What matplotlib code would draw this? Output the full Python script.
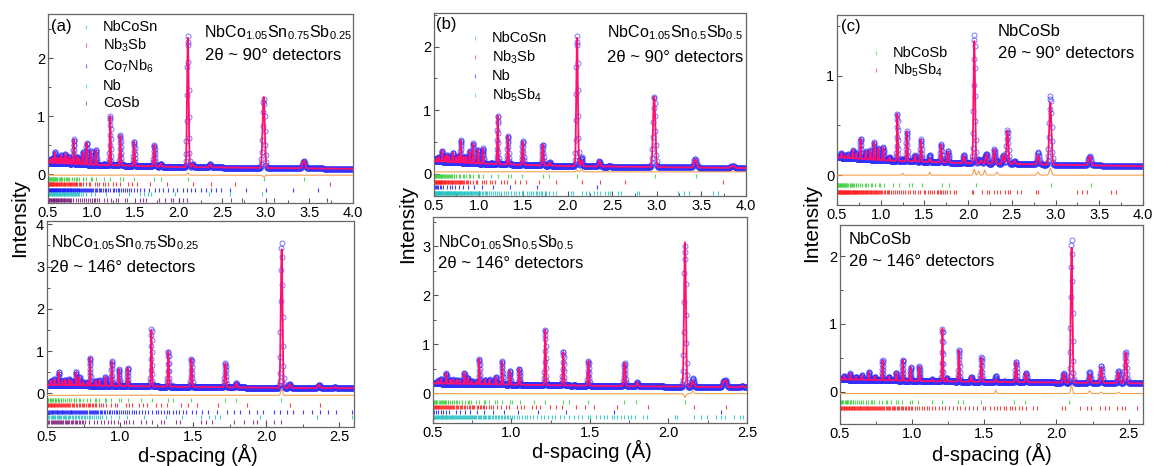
import numpy as np
import matplotlib
matplotlib.use('Agg')
import matplotlib.pyplot as plt
from matplotlib.ticker import MultipleLocator

plt.rcParams['font.family'] = ['Liberation Sans', 'DejaVu Sans']
plt.rcParams['mathtext.default'] = 'regular'

# ---------------- peak lists (d, top of calculated profile) ----------------
# NbCo1.05Sn0.75Sb0.25, 90 deg bank
A90_PEAK_D = [0.53, 0.555, 0.58, 0.605, 0.625, 0.65, 0.668, 0.70, 0.722, 0.745, 0.775, 0.795,
              0.833, 0.859, 0.90, 0.943, 0.993, 1.052, 1.145, 1.214, 1.33, 1.365, 1.488, 1.72,
              1.795, 2.105, 2.16, 2.36, 2.47, 2.975, 3.435]
A90_PEAK_TOP = [0.26, 0.28, 0.38, 0.27, 0.28, 0.33, 0.27, 0.35, 0.27, 0.30, 0.26, 0.60,
                0.30, 0.27, 0.38, 0.54, 0.40, 0.42, 0.17, 1.00, 0.67, 0.16, 0.56, 0.50,
                0.18, 2.35, 0.17, 0.17, 0.12, 1.33, 0.23]
A90_BG_D = [0.5, 1.0, 2.0, 4.0]
A90_BG = [0.20, 0.16, 0.12, 0.09]
A90_MISFIT_D = [2.105, 2.975]
A90_MISFIT = [0.04, -0.03]

# NbCo1.05Sn0.75Sb0.25, 146 deg bank
A146_PEAK_D = [0.525, 0.55, 0.58, 0.605, 0.625, 0.65, 0.668, 0.70, 0.722, 0.745, 0.775, 0.795,
               0.833, 0.859, 0.90, 0.943, 0.993, 1.052, 1.145, 1.214, 1.33, 1.365, 1.41, 1.488,
               1.72, 1.795, 2.105, 2.16, 2.36, 2.47]
A146_PEAK_TOP = [0.30, 0.33, 0.50, 0.30, 0.32, 0.33, 0.30, 0.50, 0.38, 0.27, 0.26, 0.84,
                 0.30, 0.31, 0.385, 0.76, 0.57, 0.60, 0.18, 1.50, 1.00, 0.16, 0.15, 0.82,
                 0.71, 0.24, 3.42, 0.22, 0.20, 0.15]
A146_BG_D = [0.5, 1.0, 2.0, 2.6]
A146_BG = [0.20, 0.17, 0.13, 0.12]
A146_MISFIT_D = [2.105, 1.214]
A146_MISFIT = [0.16, 0.02]

# NbCo1.05Sn0.5Sb0.5, 90 deg bank
B90_PEAK_D = [0.53, 0.555, 0.593, 0.625, 0.65, 0.67, 0.71, 0.745, 0.775, 0.80, 0.833, 0.86,
              0.90, 0.94, 0.997, 1.05, 1.145, 1.215, 1.33, 1.365, 1.495, 1.72, 1.80, 2.105,
              2.155, 2.355, 2.47, 2.97, 3.43, 3.85]
B90_PEAK_TOP = [0.25, 0.26, 0.365, 0.27, 0.30, 0.26, 0.33, 0.27, 0.28, 0.53, 0.27, 0.27,
                0.36, 0.48, 0.38, 0.40, 0.17, 0.92, 0.60, 0.15, 0.51, 0.46, 0.18, 2.14,
                0.22, 0.20, 0.12, 1.22, 0.23, 0.13]
B90_BG_D = [0.5, 1.0, 2.0, 4.0]
B90_BG = [0.20, 0.16, 0.12, 0.09]
B90_MISFIT_D = [2.105, 2.155]
B90_MISFIT = [0.03, 0.04]

# NbCo1.05Sn0.5Sb0.5, 146 deg bank
B146_PEAK_D = [0.53, 0.55, 0.585, 0.61, 0.625, 0.65, 0.67, 0.70, 0.72, 0.745, 0.775, 0.795,
               0.83, 0.86, 0.90, 0.94, 0.99, 1.05, 1.145, 1.215, 1.33, 1.40, 1.49, 1.72,
               1.80, 2.105, 2.155, 2.35, 2.365, 2.47]
B146_PEAK_TOP = [0.26, 0.29, 0.41, 0.27, 0.28, 0.27, 0.26, 0.42, 0.32, 0.25, 0.24, 0.70,
                 0.27, 0.28, 0.33, 0.65, 0.46, 0.50, 0.17, 1.30, 0.85, 0.17, 0.66, 0.62,
                 0.22, 3.09, 0.25, 0.24, 0.26, 0.15]
B146_BG_D = [0.5, 1.5, 2.5]
B146_BG = [0.20, 0.15, 0.12]
B146_MISFIT_D = [2.105, 2.155]
B146_MISFIT = [-0.08, 0.05]

# NbCoSb, 90 deg bank
C90_PEAK_D = [0.55, 0.59, 0.63, 0.68, 0.72, 0.77, 0.83, 0.88, 0.925, 0.975, 1.03, 1.10,
              1.19, 1.30, 1.39, 1.46, 1.56, 1.69, 1.77, 1.95, 2.07, 2.15, 2.21, 2.30,
              2.40, 2.45, 2.53, 2.80, 2.94, 3.39]
C90_PEAK_TOP = [0.22, 0.20, 0.21, 0.25, 0.22, 0.37, 0.24, 0.25, 0.33, 0.27, 0.28, 0.18,
                0.62, 0.44, 0.20, 0.36, 0.17, 0.31, 0.24, 0.20, 1.35, 0.15, 0.21, 0.26,
                0.20, 0.45, 0.14, 0.20, 0.73, 0.19]
C90_BG_D = [0.5, 1.0, 2.0, 4.0]
C90_BG = [0.18, 0.15, 0.12, 0.09]
C90_MISFIT_D = [1.25, 1.56, 2.07, 2.12, 2.19, 2.33, 2.80, 2.94]
C90_MISFIT = [0.02, 0.03, 0.06, 0.04, 0.05, 0.03, 0.03, 0.07]

# NbCoSb, 146 deg bank
C146_PEAK_D = [0.53, 0.57, 0.61, 0.65, 0.70, 0.74, 0.795, 0.84, 0.89, 0.935, 0.99, 1.05,
               1.14, 1.21, 1.24, 1.325, 1.41, 1.48, 1.58, 1.64, 1.72, 1.79, 2.05, 2.105,
               2.23, 2.31, 2.43, 2.48]
C146_PEAK_TOP = [0.23, 0.27, 0.22, 0.24, 0.29, 0.22, 0.46, 0.22, 0.28, 0.47, 0.36, 0.37,
                 0.18, 0.93, 0.20, 0.61, 0.22, 0.51, 0.18, 0.15, 0.44, 0.28, 0.27, 2.13,
                 0.25, 0.36, 0.29, 0.58]
C146_BG_D = [0.5, 1.2, 2.6]
C146_BG = [0.18, 0.15, 0.12]
C146_MISFIT_D = [1.58, 2.105, 2.23, 2.31, 2.43]
C146_MISFIT = [0.05, 0.12, 0.04, 0.02, 0.02]

# ---------------- reflection markers (d-spacing) ----------------
NBCOSN_TICKS = [0.503, 0.505, 0.510, 0.518, 0.520, 0.526, 0.537, 0.543, 0.553, 0.555, 0.562,
                0.573, 0.575, 0.583, 0.595, 0.598, 0.607, 0.624, 0.634, 0.649, 0.653, 0.665,
                0.683, 0.687, 0.701, 0.722, 0.727, 0.744, 0.775, 0.795, 0.825, 0.833, 0.859,
                0.897, 0.907, 0.941, 0.992, 1.006, 1.052, 1.145, 1.215, 1.330, 1.365, 1.488,
                1.718, 1.794, 2.104, 2.975, 3.435]
NBCOSB_TICKS = [0.500, 0.506, 0.514, 0.516, 0.522, 0.532, 0.539, 0.548, 0.550, 0.558, 0.568,
                0.570, 0.579, 0.590, 0.593, 0.602, 0.618, 0.629, 0.644, 0.648, 0.660, 0.677,
                0.681, 0.695, 0.716, 0.721, 0.738, 0.768, 0.788, 0.818, 0.826, 0.852, 0.889,
                0.900, 0.933, 0.983, 0.997, 1.043, 1.135, 1.204, 1.319, 1.354, 1.475, 1.703,
                1.779, 2.086, 2.950, 3.406]
NB3SB_TICKS = [0.500, 0.505, 0.510, 0.515, 0.519, 0.524, 0.529, 0.535, 0.540, 0.545, 0.551,
               0.557, 0.562, 0.568, 0.574, 0.580, 0.587, 0.593, 0.600, 0.607, 0.614, 0.621,
               0.628, 0.636, 0.644, 0.652, 0.660, 0.669, 0.678, 0.687, 0.697, 0.706, 0.716,
               0.727, 0.737, 0.748, 0.756, 0.764, 0.780, 0.789, 0.797, 0.807, 0.816, 0.826,
               0.836, 0.858, 0.870, 0.882, 0.907, 0.935, 0.966, 0.982, 1.037, 1.058, 1.080,
               1.128, 1.154, 1.183, 1.247, 1.283, 1.323, 1.414, 1.467, 1.527, 1.673, 1.870,
               2.160, 2.366, 2.645, 3.740]
CO7NB6_TICKS = [0.503, 0.509, 0.514, 0.520, 0.526, 0.531, 0.537, 0.543, 0.548, 0.554, 0.560,
                0.566, 0.571, 0.577, 0.583, 0.589, 0.594, 0.600, 0.606, 0.612, 0.618, 0.624,
                0.630, 0.636, 0.642, 0.648, 0.655, 0.661, 0.667, 0.674, 0.680, 0.687, 0.693,
                0.700, 0.707, 0.713, 0.720, 0.727, 0.734, 0.741, 0.748, 0.755, 0.762, 0.769,
                0.776, 0.784, 0.791, 0.798, 0.806, 0.813, 0.821, 0.829, 0.836, 0.844, 0.852,
                0.860, 0.868, 0.879, 0.891, 0.900, 0.912, 0.925, 0.933, 0.947, 0.958, 0.970,
                0.982, 0.995, 1.008, 1.020, 1.035, 1.048, 1.062, 1.080, 1.095, 1.110, 1.130,
                1.150, 1.170, 1.190, 1.215, 1.245, 1.260, 1.279, 1.300, 1.320, 1.336, 1.360,
                1.380, 1.405, 1.430, 1.451, 1.490, 1.520, 1.560, 1.600, 1.662, 1.730, 1.777,
                1.822, 1.879, 1.936, 1.977, 2.050, 2.095, 2.140, 2.186, 2.254, 2.311, 2.368,
                2.425, 2.480, 2.583, 2.775, 3.005, 3.311, 3.599]
NB_TICKS_A = [0.502, 0.510, 0.517, 0.525, 0.533, 0.541, 0.549, 0.557, 0.565, 0.573, 0.581,
              0.590, 0.598, 0.607, 0.615, 0.624, 0.633, 0.642, 0.651, 0.660, 0.670, 0.679,
              0.689, 0.699, 0.709, 0.719, 0.730, 0.740, 0.751, 0.762, 0.773, 0.785, 0.797,
              0.809, 0.821, 0.834, 0.847, 0.860, 0.875, 0.905, 0.935, 0.993, 1.045, 1.164,
              1.311, 1.425, 1.550, 1.607, 1.650, 1.686, 1.959, 2.345, 2.584, 2.960]
COSB_TICKS = [0.503, 0.510, 0.517, 0.524, 0.531, 0.538, 0.545, 0.552, 0.559, 0.566, 0.574,
              0.581, 0.589, 0.596, 0.604, 0.612, 0.620, 0.628, 0.636, 0.645, 0.653, 0.662,
              0.671, 0.680, 0.689, 0.698, 0.708, 0.718, 0.728, 0.738, 0.749, 0.760, 0.788,
              0.820, 0.845, 0.870, 0.891, 0.915, 0.936, 0.960, 0.985, 1.027, 1.040, 1.061,
              1.090, 1.141, 1.175, 1.220, 1.277, 1.300, 1.380, 1.410, 1.550, 1.590, 1.630,
              1.777, 1.845, 1.910, 1.936, 2.000, 2.050, 2.100, 2.600, 2.730, 3.090, 3.700]
NB_TICKS_B = [0.509, 0.522, 0.535, 0.550, 0.566, 0.583, 0.603, 0.647, 0.674, 0.704, 0.738,
              0.778, 0.825, 0.882, 0.953, 1.044, 1.167, 1.347, 1.650, 2.333]
NB5SB4_TICKS = [0.500, 0.505, 0.510, 0.515, 0.520, 0.525, 0.530, 0.535, 0.540, 0.545, 0.550,
                0.555, 0.560, 0.565, 0.570, 0.575, 0.580, 0.585, 0.590, 0.595, 0.600, 0.606,
                0.612, 0.618, 0.624, 0.630, 0.636, 0.642, 0.648, 0.654, 0.660, 0.666, 0.672,
                0.678, 0.684, 0.690, 0.696, 0.702, 0.708, 0.714, 0.720, 0.727, 0.734, 0.741,
                0.748, 0.755, 0.762, 0.769, 0.776, 0.784, 0.792, 0.800, 0.808, 0.816, 0.824,
                0.832, 0.840, 0.848, 0.857, 0.866, 0.875, 0.884, 0.893, 0.902, 0.911, 0.920,
                0.930, 0.940, 0.950, 0.960, 0.970, 0.980, 0.990, 1.002, 1.018, 1.035, 1.050,
                1.068, 1.085, 1.100, 1.120, 1.140, 1.160, 1.185, 1.205, 1.230, 1.255, 1.280,
                1.310, 1.335, 1.365, 1.395, 1.425, 1.450, 1.490, 1.503, 1.541, 1.566, 1.588,
                1.607, 1.640, 1.652, 1.675, 1.695, 1.715, 1.741, 1.759, 1.789, 1.836, 1.865,
                2.040, 2.057, 2.160, 2.210, 2.243, 2.300, 2.334, 2.363, 2.420, 2.455, 2.475,
                2.560, 2.600, 2.775, 2.800, 3.240, 3.300, 3.360, 3.630, 3.690]

GREEN, RED, BLUE, CYAN, PURPLE = '#3fd23f', '#ff2020', '#2020ff', '#26c4c4', '#7d1a7d'

W, H = 1153, 466
fig = plt.figure(figsize=(W / 100, H / 100), dpi=100)


def frame(left, top, right, bottom):
    return [left / W, 1 - bottom / H, (right - left) / W, (bottom - top) / H]


def bumps(x, pos, top, bg_d, bg_v, res):
    y = np.zeros_like(x)
    for d, t in zip(pos, top):
        s = res * d
        y += (t - np.interp(d, bg_d, bg_v)) * np.exp(-0.5 * ((x - d) / s) ** 2)
    return y


def panel(rect, xlim, ylim, npts, res, peak_d, peak_top, bg_d, bg_v,
          mis_d, mis_v, diff_off, phases, ymaj):
    ax = fig.add_axes(frame(*rect))
    x = np.geomspace(xlim[0], xlim[1], npts)
    bg = np.interp(x, bg_d, bg_v)
    calc = bg + bumps(x, peak_d, peak_top, bg_d, bg_v, res)
    obs = calc + bumps(x, mis_d, mis_v, [0, 10], [0, 0], res)
    ax.plot(x, obs, 'o', ms=3.6, mfc='none', mec='#3030ff', mew=0.65, alpha=0.7, zorder=2)
    ax.plot(x, calc, color='#ff1070', lw=1.3, zorder=3)
    ax.plot(x, obs - calc + diff_off, color='#f5a050', lw=0.8, zorder=3)
    for ticks, color, ypos in phases:
        ax.plot(ticks, np.full(len(ticks), ypos), ls='none', marker='|', ms=3.5,
                mew=0.8, color=color, alpha=0.85, zorder=2)
    ax.set_xlim(*xlim)
    ax.set_ylim(*ylim)
    ax.xaxis.set_major_locator(MultipleLocator(0.5))
    ax.xaxis.set_minor_locator(MultipleLocator(0.25))
    ax.set_yticks(ymaj)
    ax.yaxis.set_minor_locator(MultipleLocator(0.5))
    ax.xaxis.set_major_formatter(matplotlib.ticker.FormatStrFormatter('%.1f'))
    ax.tick_params(which='both', direction='in', color='#555555', labelsize=10.5, pad=2,
                   top=False, right=False)
    ax.tick_params(which='major', length=3.5, width=0.8)
    ax.tick_params(which='minor', length=2, width=0.7)
    for sp in ax.spines.values():
        sp.set_color('#666666')
        sp.set_linewidth(0.9)
    return ax


# (a)
panel((48, 14, 353, 203), (0.5, 4.0), (-0.5, 2.76), 1400, 0.0042,
      A90_PEAK_D, A90_PEAK_TOP, A90_BG_D, A90_BG, A90_MISFIT_D, A90_MISFIT, -0.02,
      [(NBCOSN_TICKS, GREEN, -0.08), (NB3SB_TICKS, RED, -0.17), (CO7NB6_TICKS, BLUE, -0.27),
       (NB_TICKS_A, CYAN, -0.35), (COSB_TICKS, PURPLE, -0.45)], [0, 1, 2])
panel((47, 221, 354, 427), (0.5, 2.6), (-0.8, 4.08), 1650, 0.0027,
      A146_PEAK_D, A146_PEAK_TOP, A146_BG_D, A146_BG, A146_MISFIT_D, A146_MISFIT, -0.05,
      [(NBCOSN_TICKS, GREEN, -0.17), (NB3SB_TICKS, RED, -0.28), (CO7NB6_TICKS, BLUE, -0.44),
       (NB_TICKS_A, CYAN, -0.56), (COSB_TICKS, PURPLE, -0.68)], [0, 1, 2, 3, 4])
# (b)
panel((434, 13, 746, 196), (0.5, 4.0), (-0.35, 2.53), 1400, 0.0042,
      B90_PEAK_D, B90_PEAK_TOP, B90_BG_D, B90_BG, B90_MISFIT_D, B90_MISFIT, 0.03,
      [(NBCOSN_TICKS, GREEN, -0.04), (NB3SB_TICKS, RED, -0.13), (NB_TICKS_B, BLUE, -0.21),
       (NB5SB4_TICKS, CYAN, -0.30)], [0, 1, 2])
panel((433, 217, 747, 423), (0.5, 2.5), (-0.61, 3.6), 1650, 0.0027,
      B146_PEAK_D, B146_PEAK_TOP, B146_BG_D, B146_BG, B146_MISFIT_D, B146_MISFIT, -0.01,
      [(NBCOSN_TICKS, GREEN, -0.18), (NB3SB_TICKS, RED, -0.28), (NB_TICKS_B, BLUE, -0.38),
       (NB5SB4_TICKS, CYAN, -0.49)], [0, 1, 2, 3])
# (c)
panel((837, 15, 1143, 205), (0.5, 4.0), (-0.30, 1.61), 1400, 0.0042,
      C90_PEAK_D, C90_PEAK_TOP, C90_BG_D, C90_BG, C90_MISFIT_D, C90_MISFIT, 0.0,
      [(NBCOSB_TICKS, GREEN, -0.10), (NB5SB4_TICKS, RED, -0.17)], [0, 1])
panel((840, 225, 1143, 424), (0.5, 2.6), (-0.48, 2.46), 1650, 0.0027,
      C146_PEAK_D, C146_PEAK_TOP, C146_BG_D, C146_BG, C146_MISFIT_D, C146_MISFIT, -0.03,
      [(NBCOSB_TICKS, GREEN, -0.16), (NB5SB4_TICKS, RED, -0.25)], [0, 1, 2])


def ftext(x, y, s, **kw):
    fig.text(x / W, 1 - y / H, s, **kw)


def legend(xm, rows):
    for y, label, color in rows:
        fig.add_artist(matplotlib.lines.Line2D([xm / W], [1 - y / H], marker='|', ms=3,
                                               mew=0.8, color=color, alpha=0.6, ls='none'))
        ftext(xm + 17, y, label, fontsize=10.5, va='center')


# panel letters, sample names and banks
for x, y, s in [(51, 27, '(a)'), (436, 25, '(b)'), (841, 27, '(c)')]:
    ftext(x, y, s, fontsize=12, va='center')

ftext(204, 33, 'NbCo$_{1.05}$Sn$_{0.75}$Sb$_{0.25}$', fontsize=11.5, va='center')
ftext(205, 55, '2θ ~ 90° detectors', fontsize=12, va='center')
ftext(607, 33, 'NbCo$_{1.05}$Sn$_{0.5}$Sb$_{0.5}$', fontsize=11.5, va='center')
ftext(607, 58, '2θ ~ 90° detectors', fontsize=12, va='center')
ftext(998, 32, 'NbCoSb', fontsize=12, va='center')
ftext(998, 54, '2θ ~ 90° detectors', fontsize=12, va='center')

ftext(51, 243, 'NbCo$_{1.05}$Sn$_{0.75}$Sb$_{0.25}$', fontsize=11.5, va='center')
ftext(50, 267, '2θ ~ 146° detectors', fontsize=12, va='center')
ftext(438, 243, 'NbCo$_{1.05}$Sn$_{0.5}$Sb$_{0.5}$', fontsize=11.5, va='center')
ftext(438, 264, '2θ ~ 146° detectors', fontsize=12, va='center')
ftext(849, 239, 'NbCoSb', fontsize=12, va='center')
ftext(849, 262, '2θ ~ 146° detectors', fontsize=12, va='center')

legend(86, [(27, 'NbCoSn', GREEN), (45, 'Nb$_3$Sb', RED), (66, 'Co$_7$Nb$_6$', BLUE),
            (86, 'Nb', CYAN), (103, 'CoSb', PURPLE)])
legend(475, [(38, 'NbCoSn', GREEN), (57, 'Nb$_3$Sb', RED), (76, 'Nb', BLUE),
             (95, 'Nb$_5$Sb$_4$', CYAN)])
legend(876, [(53, 'NbCoSb', GREEN), (70, 'Nb$_5$Sb$_4$', RED)])

# axis titles
for x, y in [(20, 218), (408, 224), (812, 223)]:
    ftext(x, y, 'Intensity', fontsize=15, rotation=90, ha='center', va='center')
for x, y in [(198, 455), (592, 451), (992, 454)]:
    ftext(x, y, 'd-spacing (Å)', fontsize=14.5, ha='center', va='center')

fig.savefig('out.png', dpi=100)
